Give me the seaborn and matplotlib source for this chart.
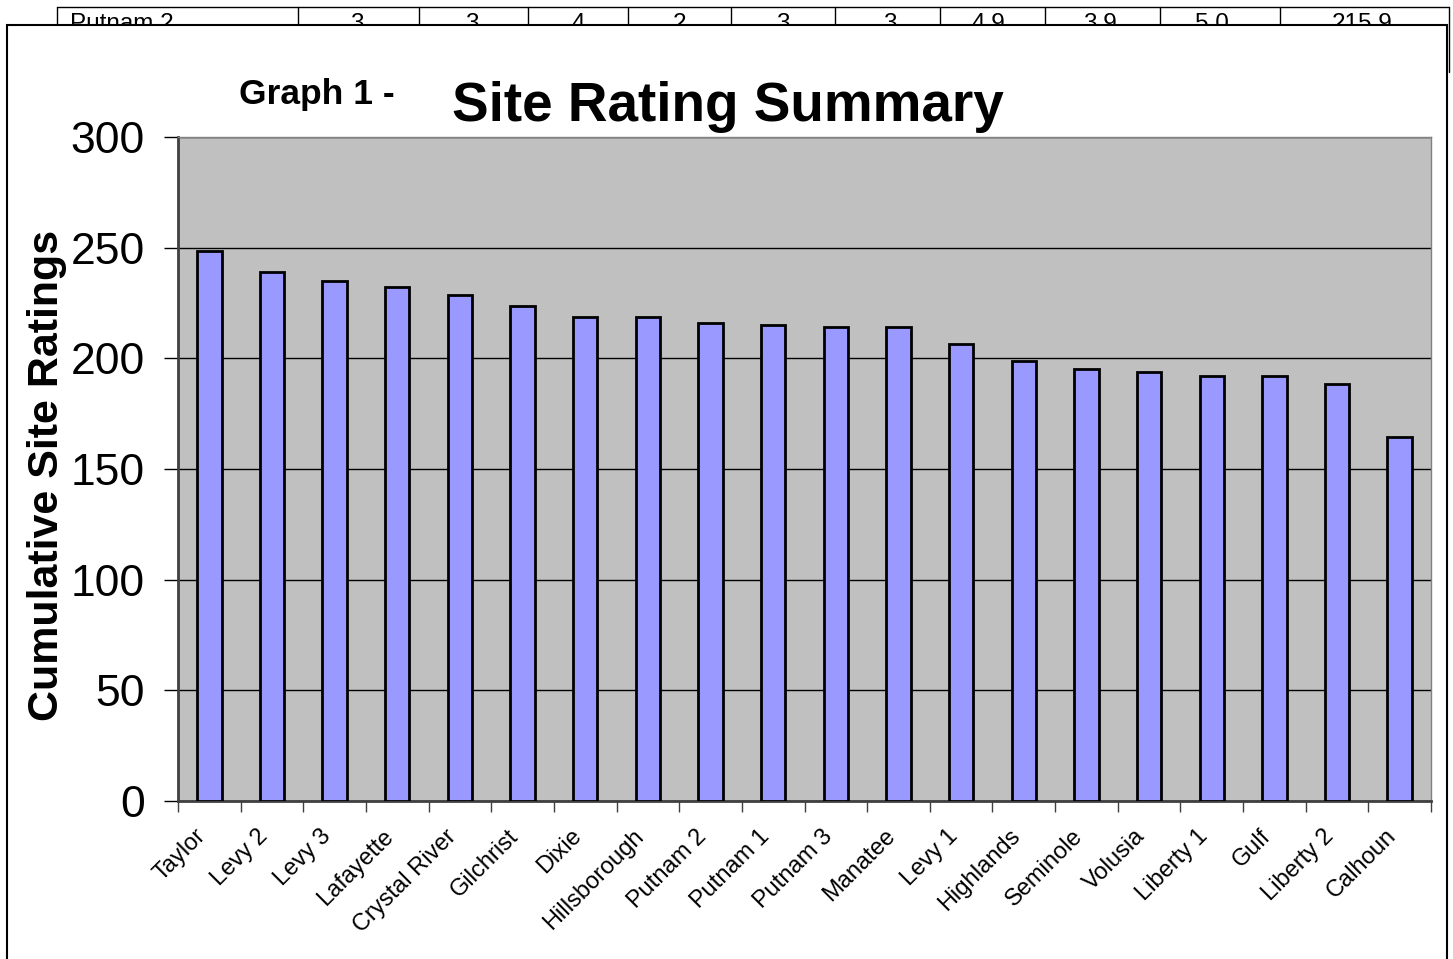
import numpy as np
import pandas as pd
import matplotlib
matplotlib.use("Agg")
import matplotlib.pyplot as plt
from matplotlib.patches import Rectangle
from matplotlib.lines import Line2D
import matplotlib.transforms as mtransforms
import seaborn as sns

sites = ["Taylor", "Levy 2", "Levy 3", "Lafayette", "Crystal River", "Gilchrist",
         "Dixie", "Hillsborough", "Putnam 2", "Putnam 1", "Putnam 3", "Manatee",
         "Levy 1", "Highlands", "Seminole", "Volusia", "Liberty 1", "Gulf",
         "Liberty 2", "Calhoun"]
ratings = [248.5, 239.0, 234.8, 232.2, 228.8, 223.6, 218.5, 218.7, 216.0, 215.2,
           214.3, 214.3, 206.6, 198.8, 195.2, 193.7, 192.0, 192.0, 188.5, 164.5]

# partly hidden table row behind the chart
table_row = ["Putnam 2", "3", "3", "4", "2", "3", "3", "4.9", "3.9", "5.0", "215.9"]
table_x = [70, 357, 472, 578, 679, 783, 890, 988, 1100, 1212, 1362]
table_lines = [57, 298, 419, 528, 628, 731, 835, 940, 1045, 1160, 1280, 1449]

W, H = 1453, 959
df = pd.DataFrame({"site": sites, "rating": ratings})

sns.set_style("white")
plt.rcParams["font.family"] = ["Liberation Sans", "DejaVu Sans"]
plt.rcParams["text.color"] = "black"
plt.rcParams["axes.labelcolor"] = "black"
plt.rcParams["xtick.color"] = "black"
plt.rcParams["ytick.color"] = "black"

fig = plt.figure(figsize=(W / 100, H / 100), dpi=100)
fig.patch.set_facecolor("white")


def fx(px):
    return px / W


def fy(py):
    return 1 - py / H


# table fragment at the very top (drawn underneath the chart box)
for txt, x in zip(table_row, table_x):
    fig.text(fx(x), fy(30), txt, fontsize=17.5, ha="left" if txt == "Putnam 2" else "center",
             va="baseline", zorder=-2)
fig.add_artist(Line2D([fx(57), fx(1449)], [fy(7), fy(7)], color="black", lw=1, zorder=-2))
for x in table_lines:
    fig.add_artist(Line2D([fx(x), fx(x)], [fy(7), fy(72)], color="black", lw=1, zorder=-2))

# chart box
fig.add_artist(Rectangle((fx(7), fy(975)), fx(1447) - fx(7), fy(25) - fy(975),
                         facecolor="white", edgecolor="black", lw=1.5, zorder=-1))

ax = fig.add_axes([fx(178), fy(801), fx(1431) - fx(178), fy(137) - fy(801)])
ax.set_facecolor("#C0C0C0")
sns.barplot(data=df, x="site", y="rating", color="#9999FF", saturation=1,
            width=0.39, edgecolor="black", linewidth=2, ax=ax, zorder=3)

ax.set_ylim(0, 300)
ax.set_xlim(-0.5, len(sites) - 0.5)
ax.set_yticks(np.arange(0, 301, 50))
ax.yaxis.grid(True, color="black", lw=1)
ax.set_axisbelow(True)
ax.tick_params(axis="y", labelsize=32, length=10, width=1, color="black",
               labelcolor="black", pad=14, left=True)

ax.set_xticks(np.arange(len(sites)))
ax.set_xticklabels(sites, rotation=45, ha="right", va="center", rotation_mode="anchor",
                   fontsize=17, color="black")
ax.tick_params(axis="x", length=0, pad=23)
shift = mtransforms.ScaledTranslation(-7 / 100, 0, fig.dpi_scale_trans)
for lab in ax.get_xticklabels():
    lab.set_transform(lab.get_transform() + shift)
ax.set_xticks(np.arange(-0.5, len(sites), 1), minor=True)
ax.tick_params(axis="x", which="minor", length=8, width=1, color="#404040", bottom=True)

for side in ["top", "right"]:
    ax.spines[side].set_color("#808080")
    ax.spines[side].set_linewidth(1)
ax.spines["left"].set_color("#404040")
ax.spines["left"].set_linewidth(2)
ax.spines["bottom"].set_color("#404040")
ax.spines["bottom"].set_linewidth(2)

ax.set_xlabel("")
ax.set_ylabel("")
fig.text(fx(47), fy(475), "Cumulative Site Ratings", rotation=90, fontsize=31,
         fontweight="bold", ha="center", va="center", color="black")

fig.text(fx(239), fy(104), "Graph 1 -", fontsize=25.5, fontweight="bold", ha="left",
         va="baseline", color="black")
fig.text(fx(452), fy(121), "Site Rating Summary", fontsize=39.5, fontweight="bold",
         ha="left", va="baseline", color="black")

fig.savefig("out.png", dpi=100)
